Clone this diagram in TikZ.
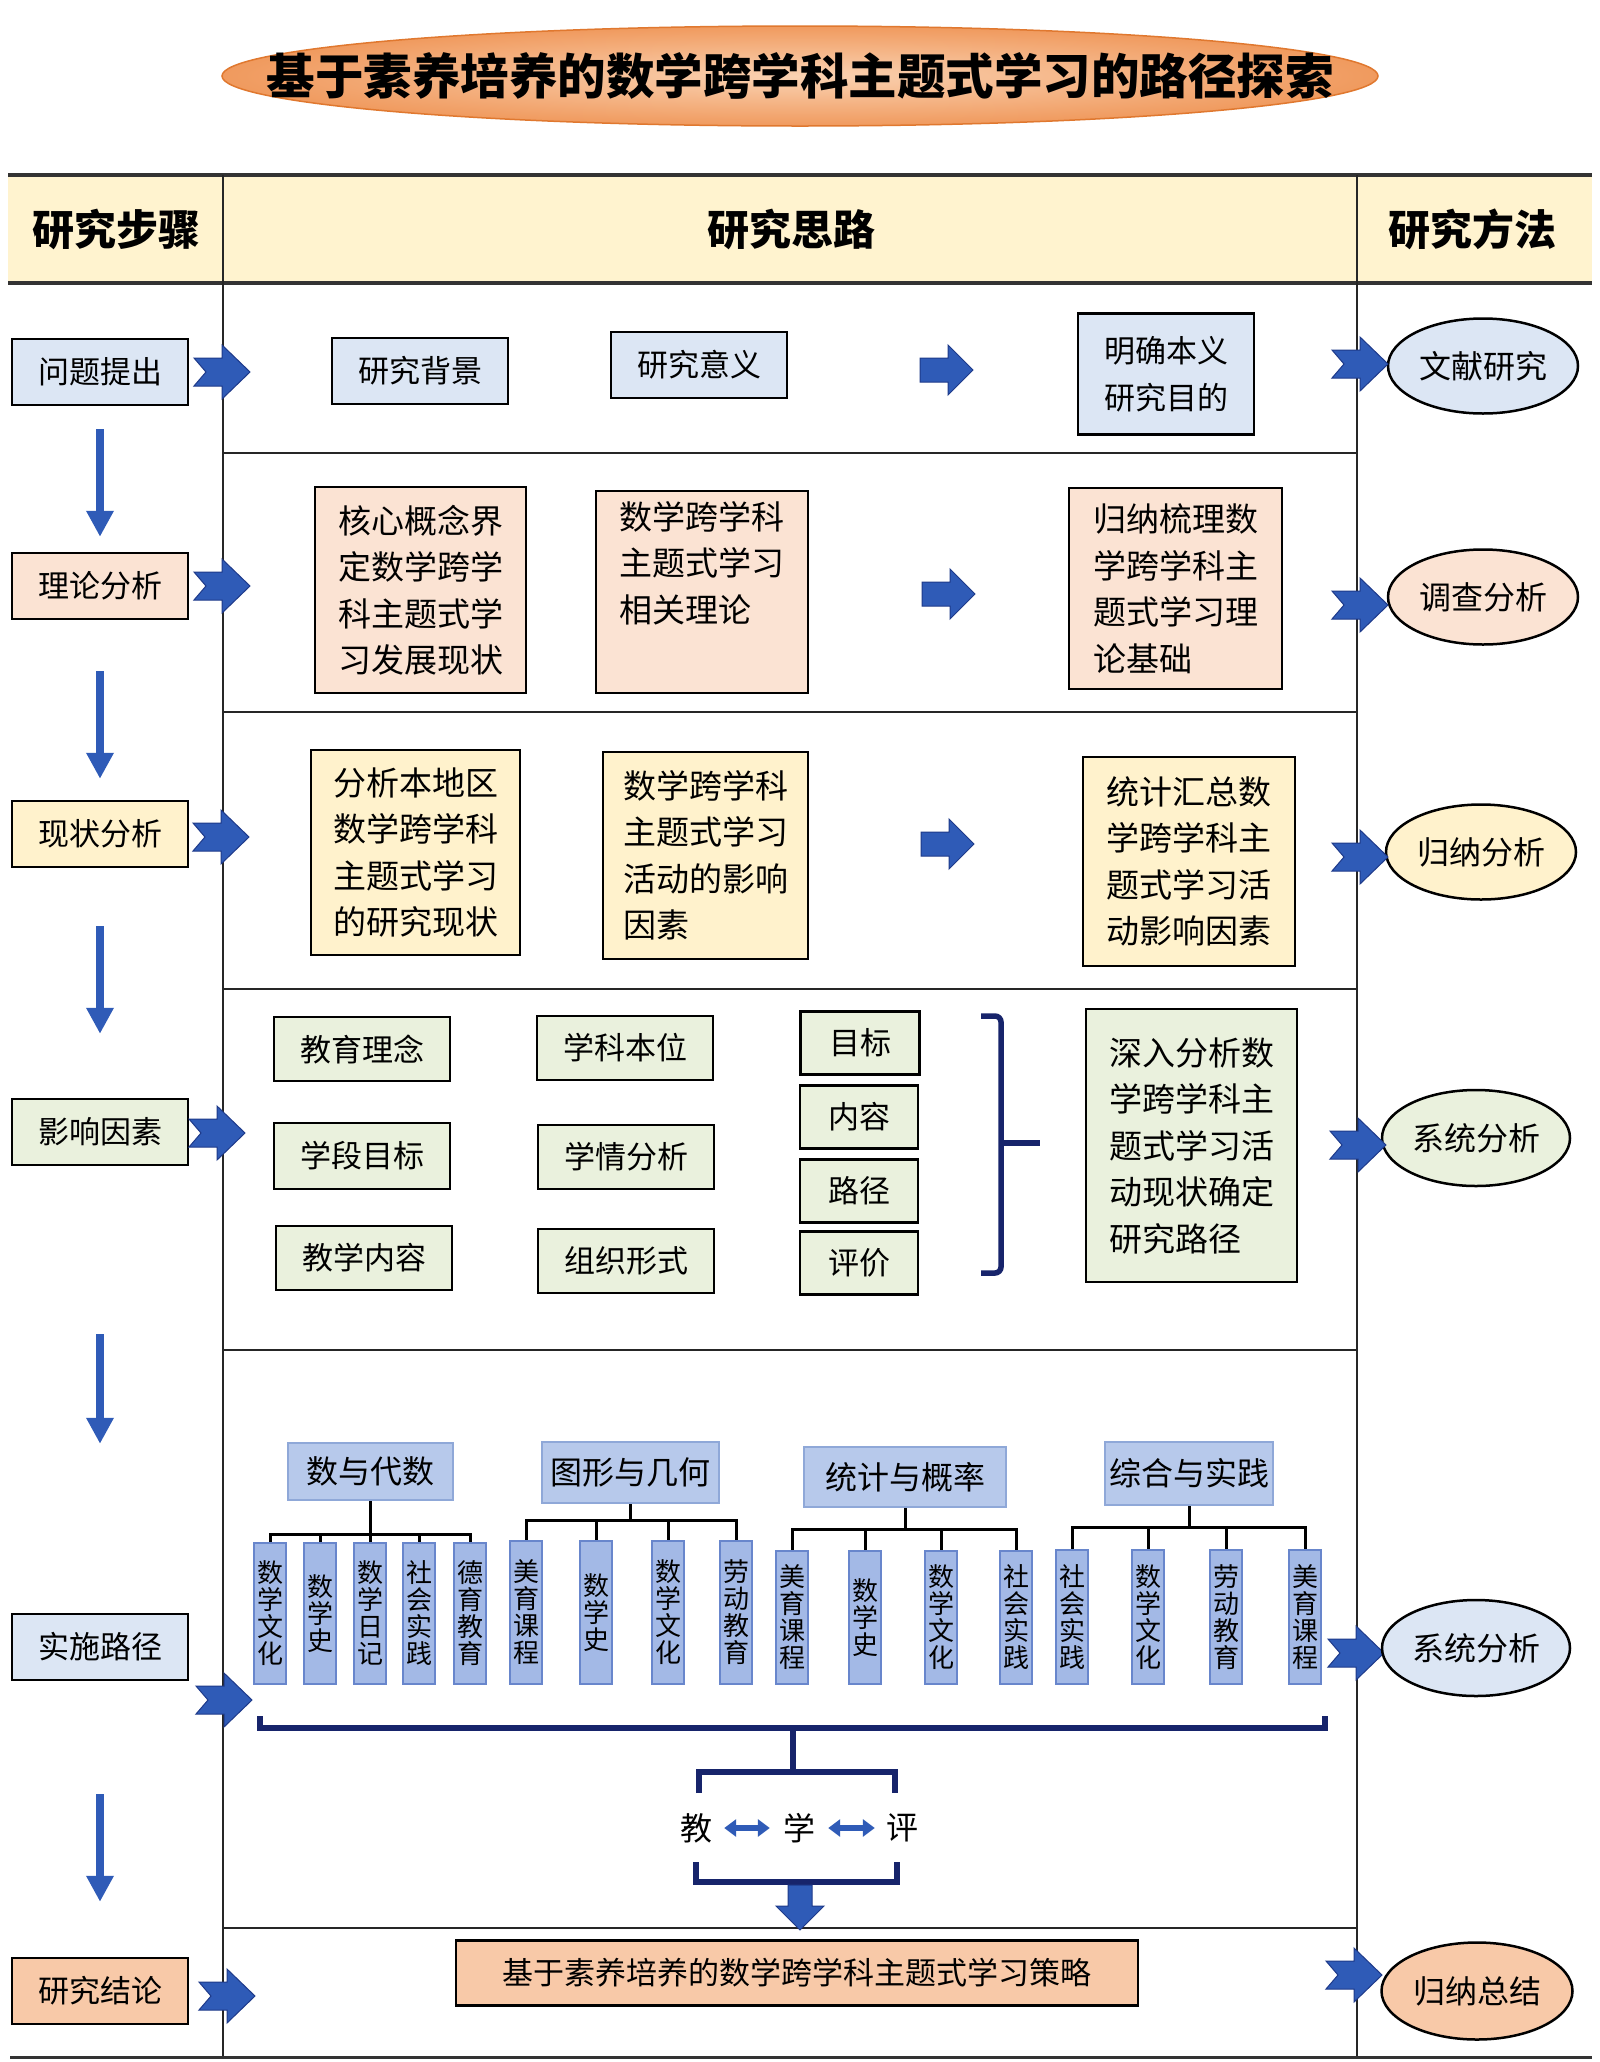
\documentclass[tikz,border=0pt]{standalone}
\usepackage{fontspec}
\setmainfont{Noto Sans CJK SC}
\usetikzlibrary{shapes.geometric,arrows.meta,calc}
\definecolor{lblue}{HTML}{DCE6F4}
\definecolor{lpeach}{HTML}{FBE3D3}
\definecolor{lyellow}{HTML}{FFF2CC}
\definecolor{lgreen}{HTML}{EAF1DD}
\definecolor{lorange}{HTML}{F8C9A8}
\definecolor{hdr}{HTML}{FFF3CF}
\definecolor{arrblue}{HTML}{2F5BB7}
\definecolor{arrdark}{HTML}{1E3A8A}
\definecolor{navy}{HTML}{17246B}
\definecolor{grpfill}{HTML}{B7C9EB}
\definecolor{grpdraw}{HTML}{8FA8D8}
\definecolor{chfill}{HTML}{A3B9E6}
\definecolor{chdraw}{HTML}{6886CC}
\definecolor{ttlin}{HTML}{FAD2B2}
\definecolor{ttlout}{HTML}{F09A5E}
\definecolor{ttldraw}{HTML}{E0782F}
\newcommand{\fsz}[2]{\fontsize{#1pt}{#2pt}\selectfont}
\newcommand{\chev}[2]{\filldraw[chevst] (#1,#2) ++(0,-14) -- ++(28,0) -- ++(0,-13) -- ++(28,27) -- ++(-28,27) -- ++(0,-13) -- ++(-28,0) -- ++(12,-14) -- cycle;}
\newcommand{\blkarr}[2]{\filldraw[chevst] (#1,#2) ++(0,-12) -- ++(28,0) -- ++(0,-13) -- ++(25,25) -- ++(-25,25) -- ++(0,-13) -- ++(-28,0) -- cycle;}
\tikzset{
  box/.style={draw=black, line width=2.5pt, inner sep=0pt, align=center, font=\fsz{31}{36}},
  lbox/.style={box, minimum width=176pt, minimum height=66pt},
  tbox/.style={draw=black, line width=2.5pt, inner sep=0pt, align=left, font=\fsz{33}{46.5}},
  oval/.style={ellipse, draw=black, line width=2.5pt, inner sep=0pt, minimum width=190pt, minimum height=95pt, font=\fsz{32}{36}},
  hdtext/.style={font=\bfseries\fsz{42}{46}, inner sep=0pt},
  grp/.style={fill=grpfill, draw=grpdraw, line width=2pt, inner sep=0pt, font=\fsz{32}{36}},
  kid/.style={fill=chfill, draw=chdraw, line width=1.5pt, minimum width=32pt, inner sep=0pt, align=center, font=\fsz{26}{27}, anchor=north},
  tree/.style={draw=black, line width=3pt},
  brk/.style={draw=navy, line width=5.5pt},
  chevst/.style={fill=arrblue, draw=arrdark, line width=1pt},
  downarr/.style={draw=arrblue, line width=8pt, -{Triangle[width=26pt,length=26pt]}},
  dbl/.style={draw=arrblue, line width=6pt, {Triangle[width=17pt,length=12pt]}-{Triangle[width=17pt,length=12pt]}},
  grid/.style={draw=black!85, line width=2pt},
  thick grid/.style={draw=black!80, line width=4pt},
  plain/.style={inner sep=0pt, font=\fsz{32}{36}}
}
\begin{document}
\begin{tikzpicture}[x=1pt,y=-1pt]
\useasboundingbox (0,0) rectangle (1600,2062);
\fill[white] (0,0) rectangle (1600,2062);

% title
\node[ellipse, minimum width=1156pt, minimum height=100pt, inner sep=0pt, inner color=ttlin, outer color=ttlout, draw=ttldraw, line width=1.5pt] (title) at (800,76) {};
\node[inner sep=0pt, font=\bfseries\fsz{48.5}{52}] (titletext) at (title.center) {基于素养培养的数学跨学科主题式学习的路径探索};

% header and table
\fill[hdr] (8,175) rectangle (1592,283);
\draw[thick grid] (8,175) -- (1592,175);
\draw[thick grid] (8,283) -- (1592,283);
\draw[grid] (223,175) -- (223,2057);
\draw[grid] (1357,175) -- (1357,2057);
\foreach \yy in {453,712,989,1350,1928} \draw[grid, line width=2.5pt] (223,\yy) -- (1357,\yy);
\draw[thick grid, line width=3pt] (10,2057) -- (1592,2057);
\node[hdtext] (h1) at (116,229) {研究步骤};
\node[hdtext] (h2) at (791,229) {研究思路};
\node[hdtext] (h3) at (1472,229) {研究方法};

% left column
\node[lbox, fill=lblue] (q1) at (100,372) {问题提出};
\node[lbox, fill=lpeach] (q2) at (100,586) {理论分析};
\node[lbox, fill=lyellow] (q3) at (100,834) {现状分析};
\node[lbox, fill=lgreen] (q4) at (100,1132) {影响因素};
\node[lbox, fill=lblue] (q5) at (100,1647) {实施路径};
\node[lbox, fill=lorange] (q6) at (100,1991) {研究结论};
\draw[downarr, shorten <=23pt, shorten >=15pt] (q1.south) -- (q2.north);
\draw[downarr, shorten <=51pt, shorten >=21pt] (q2.south) -- (q3.north);
\draw[downarr, shorten <=58pt, shorten >=64pt] (q3.south) -- (q4.north);
\draw[downarr, shorten <=168pt, shorten >=169pt] (q4.south) -- (q5.north);
\draw[downarr, shorten <=113pt, shorten >=55pt] (q5.south) -- (q6.north);
\chev{194}{372}
\chev{194}{586}
\chev{193}{837}
\chev{189}{1133}
\chev{196}{1700}
\chev{199}{1996}

% row 1
\node[lbox, fill=lblue] (m11) at (420,371) {研究背景};
\node[lbox, fill=lblue] (m12) at (699,365) {研究意义};
\node[box, fill=lblue, minimum width=176pt, minimum height=121pt, font=\fsz{31}{47}] (m13) at (1166,374) {明确本义\\研究目的};
\node[oval, fill=lblue] (e1) at (1483,366) {文献研究};
\blkarr{920}{370}

% row 2
\node[tbox, fill=lpeach, minimum width=211pt, minimum height=206pt] (m21) at (420.5,590) {核心概念界\\定数学跨学\\科主题式学\\习发展现状};
\node[tbox, fill=lpeach, minimum width=212pt, minimum height=202pt] (m22) at (702,592) {数学跨学科\\主题式学习\\相关理论\\\strut};
\node[tbox, fill=lpeach, minimum width=213pt, minimum height=201pt] (m23) at (1175.5,588.5) {归纳梳理数\\学跨学科主\\题式学习理\\论基础};
\node[oval, fill=lpeach] (e2) at (1483,597) {调查分析};
\blkarr{922}{594}

% row 3
\node[tbox, fill=lyellow, minimum width=209pt, minimum height=205pt] (m31) at (415.5,852.5) {分析本地区\\数学跨学科\\主题式学习\\的研究现状};
\node[tbox, fill=lyellow, minimum width=205pt, minimum height=207pt] (m32) at (705.5,855.5) {数学跨学科\\主题式学习\\活动的影响\\因素};
\node[tbox, fill=lyellow, minimum width=212pt, minimum height=209pt] (m33) at (1189,861.5) {统计汇总数\\学跨学科主\\题式学习活\\动影响因素};
\node[oval, fill=lyellow] (e3) at (1481,852) {归纳分析};
\blkarr{921}{844}

% row 4
\node[lbox, fill=lgreen, minimum height=64pt] (f1) at (362,1049) {教育理念};
\node[lbox, fill=lgreen, minimum height=64pt] (f2) at (625,1048) {学科本位};
\node[lbox, fill=lgreen] (f3) at (362,1156) {学段目标};
\node[lbox, fill=lgreen, minimum height=64pt] (f4) at (626,1157) {学情分析};
\node[lbox, fill=lgreen, minimum height=64pt] (f5) at (364,1258) {教学内容};
\node[lbox, fill=lgreen, minimum height=64pt] (f6) at (626,1261) {组织形式};
\node[box, fill=lgreen, minimum width=119pt, minimum height=63pt] (a1) at (860,1043) {目标};
\node[box, fill=lgreen, minimum width=118pt, minimum height=63pt] (a2) at (859,1117) {内容};
\node[box, fill=lgreen, minimum width=118pt, minimum height=63pt] (a3) at (859,1191) {路径};
\node[box, fill=lgreen, minimum width=118pt, minimum height=63pt] (a4) at (859,1263) {评价};
\draw[brk, rounded corners=6pt] (981,1016) -- (1001,1016) -- (1001,1273) -- (981,1273);
\draw[brk] (1001,1143) -- (1040,1143);
\node[tbox, fill=lgreen, minimum width=211pt, minimum height=273pt] (m43) at (1191.5,1145.5) {深入分析数\\学跨学科主\\题式学习活\\动现状确定\\研究路径};
\node[oval, fill=lgreen, minimum width=188pt, minimum height=96pt] (e4) at (1476,1138) {系统分析};
\chev{1332}{364}
\chev{1332}{605}
\chev{1332}{857}
\chev{1330}{1145}
\chev{1328}{1653}
\chev{1326}{1975}

% row 5
\node[grp, minimum width=165pt, minimum height=57pt] (g1) at (370.5,1471.5) {数与代数};
\node[grp, minimum width=177pt, minimum height=61pt] (g2) at (630.5,1472.5) {图形与几何};
\node[grp, minimum width=202pt, minimum height=60pt] (g3) at (905,1477) {统计与概率};
\node[grp, minimum width=168pt, minimum height=63pt] (g4) at (1189,1473.5) {综合与实践};

\foreach \n/\xx/\tt in {1/270/{数\\学\\文\\化},2/320/{数\\学\\史},3/370/{数\\学\\日\\记},4/419/{社\\会\\实\\践},5/470/{德\\育\\教\\育}}
  \node[kid, minimum height=141pt] (c1\n) at (\xx,1542) {\tt};
\foreach \n/\xx/\tt in {1/526/{美\\育\\课\\程},2/596/{数\\学\\史},3/668/{数\\学\\文\\化},4/736/{劳\\动\\教\\育}}
  \node[kid, minimum height=143pt] (c2\n) at (\xx,1540) {\tt};
\foreach \n/\xx/\tt in {1/792/{美\\育\\课\\程},2/865/{数\\学\\史},3/941/{数\\学\\文\\化},4/1016/{社\\会\\实\\践}}
  \node[kid, minimum height=133pt] (c3\n) at (\xx,1550) {\tt};
\foreach \n/\xx/\tt in {1/1072/{社\\会\\实\\践},2/1148/{数\\学\\文\\化},3/1226/{劳\\动\\教\\育},4/1305/{美\\育\\课\\程}}
  \node[kid, minimum height=134pt] (c4\n) at (\xx,1549) {\tt};

\foreach \n in {1,...,5} \draw[tree] (g1.south) -- (g1.south |- 0,1534) -| (c1\n.north);
\foreach \n in {1,...,4} \draw[tree] (g2.south) -- (g2.south |- 0,1520) -| (c2\n.north);
\foreach \n in {1,...,4} \draw[tree] (g3.south) -- (g3.south |- 0,1529) -| (c3\n.north);
\foreach \n in {1,...,4} \draw[tree] (g4.south) -- (g4.south |- 0,1527) -| (c4\n.north);

\node[oval, fill=lblue, minimum width=188pt, minimum height=96pt] (e5) at (1476,1648) {系统分析};

% brackets and teach-learn-evaluate
\draw[brk] (260,1716) -- (260,1728) -- (1325,1728) -- (1325,1716);
\coordinate (bm) at (793,1728);
\coordinate (tb) at (793,1772);
\draw[brk] (bm) -- (tb);
\draw[brk] (699,1793) -- (699,1772) -- (895,1772) -- (895,1793);
\node[plain] (jiao) at (696,1828) {教};
\node[plain] (xue) at (799,1828) {学};
\node[plain] (ping) at (902,1828) {评};
\draw[dbl, shorten <=12pt, shorten >=13pt] (jiao) -- (xue);
\draw[dbl, shorten <=13pt, shorten >=11pt] (xue) -- (ping);
\draw[brk] (696,1862) -- (696,1882) -- (897,1882) -- (897,1862);
\filldraw[chevst] (788,1885) -- (812,1885) -- (812,1906) -- (824,1906) -- (800,1930) -- (776,1906) -- (788,1906) -- cycle;

% row 6
\node[box, fill=lorange, minimum width=682pt, minimum height=65pt] (s) at (797,1973) {基于素养培养的数学跨学科主题式学习策略};
\node[oval, fill=lorange, minimum width=191pt, minimum height=97pt] (e6) at (1477,1991) {归纳总结};
\end{tikzpicture}
\end{document}
